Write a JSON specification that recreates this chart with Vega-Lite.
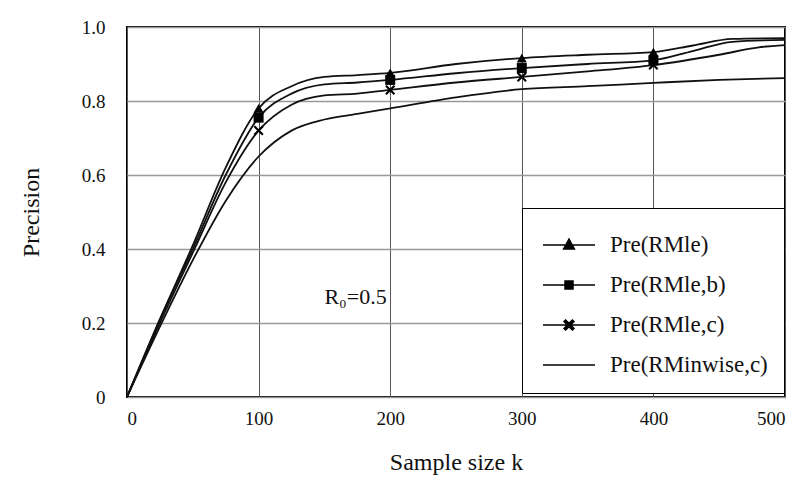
{
  "$schema": "https://vega.github.io/schema/vega-lite/v6.json",
  "width": 658,
  "height": 370,
  "autosize": {"type": "none"},
  "padding": {"left": 127, "top": 27, "right": 20, "bottom": 94},
  "background": "white",
  "config": {
    "view": {"stroke": "black", "strokeWidth": 2},
    "font": "Liberation Serif",
    "axis": {"labelFont": "Liberation Serif", "titleFont": "Liberation Serif", "labelFontSize": 19, "titleFontSize": 24, "titleFontWeight": "normal", "labelColor": "#111", "titleColor": "#111", "domain": false, "ticks": false}
  },
  "datasets": {
    "curves": [
      {"series": "Pre(RMle)", "k": 0, "p": 0},
      {"series": "Pre(RMle)", "k": 25, "p": 0.21},
      {"series": "Pre(RMle)", "k": 50, "p": 0.41},
      {"series": "Pre(RMle)", "k": 75, "p": 0.62},
      {"series": "Pre(RMle)", "k": 100, "p": 0.78},
      {"series": "Pre(RMle)", "k": 125, "p": 0.84},
      {"series": "Pre(RMle)", "k": 150, "p": 0.865},
      {"series": "Pre(RMle)", "k": 175, "p": 0.87},
      {"series": "Pre(RMle)", "k": 200, "p": 0.876},
      {"series": "Pre(RMle)", "k": 250, "p": 0.9},
      {"series": "Pre(RMle)", "k": 300, "p": 0.916},
      {"series": "Pre(RMle)", "k": 350, "p": 0.925},
      {"series": "Pre(RMle)", "k": 400, "p": 0.932},
      {"series": "Pre(RMle)", "k": 430, "p": 0.95},
      {"series": "Pre(RMle)", "k": 460, "p": 0.968},
      {"series": "Pre(RMle)", "k": 500, "p": 0.97},
      {"series": "Pre(RMle,b)", "k": 0, "p": 0},
      {"series": "Pre(RMle,b)", "k": 25, "p": 0.21},
      {"series": "Pre(RMle,b)", "k": 50, "p": 0.4},
      {"series": "Pre(RMle,b)", "k": 75, "p": 0.6},
      {"series": "Pre(RMle,b)", "k": 100, "p": 0.755},
      {"series": "Pre(RMle,b)", "k": 125, "p": 0.82},
      {"series": "Pre(RMle,b)", "k": 150, "p": 0.845},
      {"series": "Pre(RMle,b)", "k": 175, "p": 0.85},
      {"series": "Pre(RMle,b)", "k": 200, "p": 0.857},
      {"series": "Pre(RMle,b)", "k": 250, "p": 0.875},
      {"series": "Pre(RMle,b)", "k": 300, "p": 0.889},
      {"series": "Pre(RMle,b)", "k": 350, "p": 0.9},
      {"series": "Pre(RMle,b)", "k": 400, "p": 0.91},
      {"series": "Pre(RMle,b)", "k": 430, "p": 0.935},
      {"series": "Pre(RMle,b)", "k": 460, "p": 0.96},
      {"series": "Pre(RMle,b)", "k": 500, "p": 0.965},
      {"series": "Pre(RMle,c)", "k": 0, "p": 0},
      {"series": "Pre(RMle,c)", "k": 25, "p": 0.2},
      {"series": "Pre(RMle,c)", "k": 50, "p": 0.39},
      {"series": "Pre(RMle,c)", "k": 75, "p": 0.58},
      {"series": "Pre(RMle,c)", "k": 100, "p": 0.72},
      {"series": "Pre(RMle,c)", "k": 125, "p": 0.79},
      {"series": "Pre(RMle,c)", "k": 150, "p": 0.815},
      {"series": "Pre(RMle,c)", "k": 175, "p": 0.82},
      {"series": "Pre(RMle,c)", "k": 200, "p": 0.83},
      {"series": "Pre(RMle,c)", "k": 250, "p": 0.85},
      {"series": "Pre(RMle,c)", "k": 300, "p": 0.865},
      {"series": "Pre(RMle,c)", "k": 350, "p": 0.88},
      {"series": "Pre(RMle,c)", "k": 400, "p": 0.897},
      {"series": "Pre(RMle,c)", "k": 450, "p": 0.925},
      {"series": "Pre(RMle,c)", "k": 480, "p": 0.945},
      {"series": "Pre(RMle,c)", "k": 500, "p": 0.951},
      {"series": "Pre(RMinwise,c)", "k": 0, "p": 0},
      {"series": "Pre(RMinwise,c)", "k": 25, "p": 0.19},
      {"series": "Pre(RMinwise,c)", "k": 50, "p": 0.37},
      {"series": "Pre(RMinwise,c)", "k": 75, "p": 0.53},
      {"series": "Pre(RMinwise,c)", "k": 100, "p": 0.65},
      {"series": "Pre(RMinwise,c)", "k": 125, "p": 0.72},
      {"series": "Pre(RMinwise,c)", "k": 150, "p": 0.75},
      {"series": "Pre(RMinwise,c)", "k": 175, "p": 0.765},
      {"series": "Pre(RMinwise,c)", "k": 200, "p": 0.78},
      {"series": "Pre(RMinwise,c)", "k": 250, "p": 0.81},
      {"series": "Pre(RMinwise,c)", "k": 300, "p": 0.832},
      {"series": "Pre(RMinwise,c)", "k": 350, "p": 0.84},
      {"series": "Pre(RMinwise,c)", "k": 400, "p": 0.849},
      {"series": "Pre(RMinwise,c)", "k": 450, "p": 0.857},
      {"series": "Pre(RMinwise,c)", "k": 500, "p": 0.862}
    ],
    "notes": [{"label": "R₀=0.5", "k": 150, "p": 0.27}]
  },
  "layer": [
    {
      "data": {"name": "curves"},
      "mark": {"type": "line", "interpolate": "monotone", "color": "#111", "strokeWidth": 1.8},
      "encoding": {
        "x": {"field": "k", "type": "quantitative", "scale": {"domain": [0, 500], "nice": false}, "axis": {"values": [0, 100, 200, 300, 400, 500], "title": "Sample size k", "grid": true, "gridColor": "#555", "gridWidth": 1, "labelPadding": 12, "titlePadding": 22}},
        "y": {"field": "p", "type": "quantitative", "scale": {"domain": [0, 1], "nice": false}, "axis": {"values": [0, 0.2, 0.4, 0.6, 0.8, 1], "labelExpr": "datum.value == 0 ? '0' : format(datum.value, '.1f')", "title": "Precision", "grid": true, "gridColor": "#999", "gridWidth": 1.5, "labelPadding": 22, "titlePadding": 38}},
        "detail": {"field": "series"}
      }
    },
    {
      "data": {"name": "curves"},
      "transform": [{"filter": "(datum.k == 100 || datum.k == 200 || datum.k == 300 || datum.k == 400) && datum.series != 'Pre(RMinwise,c)'"}],
      "mark": {"type": "point", "filled": true, "color": "black", "size": 100, "opacity": 1},
      "encoding": {
        "x": {"field": "k", "type": "quantitative"},
        "y": {"field": "p", "type": "quantitative"},
        "shape": {"field": "series", "type": "nominal", "scale": {"domain": ["Pre(RMle)", "Pre(RMle,b)", "Pre(RMle,c)"], "range": ["triangle-up", "square", "M-1,-0.7L-0.7,-1L0,-0.3L0.7,-1L1,-0.7L0.3,0L1,0.7L0.7,1L0,0.3L-0.7,1L-1,0.7L-0.3,0Z"]}, "legend": null}
      }
    },
    {
      "data": {"name": "curves"},
      "transform": [{"filter": "datum.k == 0"}],
      "mark": {"type": "point", "filled": true, "fill": "black", "stroke": "black", "strokeWidth": 1.5, "opacity": 0},
      "encoding": {
        "x": {"field": "k", "type": "quantitative"},
        "y": {"field": "p", "type": "quantitative"},
        "shape": {
          "field": "series", "type": "nominal",
          "scale": {"domain": ["Pre(RMle)", "Pre(RMle,b)", "Pre(RMle,c)", "Pre(RMinwise,c)"],
            "range": ["M-1.3,0H1.3M0,-0.3L0.27,0.2L-0.27,0.2Z", "M-1.3,0H1.3M-0.2,-0.2H0.2V0.2H-0.2Z", "M-1.3,0H1.3M-0.25,-0.17L-0.17,-0.25L0,-0.08L0.17,-0.25L0.25,-0.17L0.08,0L0.25,0.17L0.17,0.25L0,0.08L-0.17,0.25L-0.25,0.17L-0.08,0Z", "M-1.3,0H1.3"]},
          "legend": {"title": null, "orient": "none", "legendX": 395, "legendY": 181, "symbolSize": 1600, "labelFont": "Liberation Serif", "labelFontSize": 23, "labelColor": "#111", "labelOffset": 20, "rowPadding": 7, "padding": 16, "strokeColor": "black", "fillColor": "white", "labelLimit": 300, "symbolOffset": 10,
            "encode": {"symbols": {"update": {"opacity": {"value": 1}, "fill": {"value": "black"}, "stroke": {"value": "black"}, "strokeWidth": {"value": 1.5}}}, "legend": {"update": {"strokeWidth": {"value": 2}}}}}
        }
      }
    },
    {
      "data": {"name": "notes"},
      "mark": {"type": "text", "font": "Liberation Serif", "fontSize": 22, "color": "#111", "align": "left"},
      "encoding": {
        "x": {"field": "k", "type": "quantitative"},
        "y": {"field": "p", "type": "quantitative"},
        "text": {"field": "label"}
      }
    }
  ],
  "resolve": {"scale": {"shape": "independent"}, "legend": {"shape": "independent"}}
}
